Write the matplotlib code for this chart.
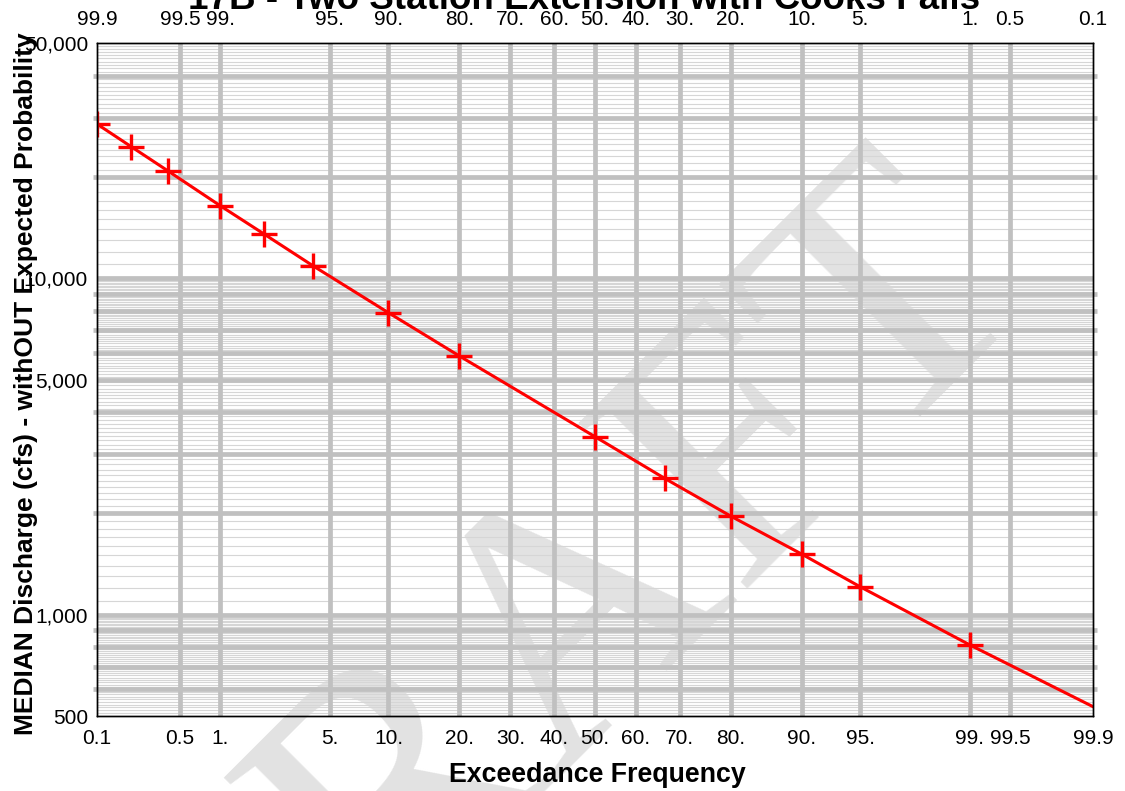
import numpy as np
import matplotlib
matplotlib.use("Agg")
import matplotlib.pyplot as plt
from matplotlib.ticker import NullFormatter, NullLocator, FixedLocator
from statistics import NormalDist

# ---------------- data ----------------
exceed_freq = [0.1, 0.2, 0.4, 1, 2, 4, 10, 20, 50, 66.7, 80, 90, 95, 99, 99.9]
median_flow = [28720, 24600, 20870, 16430, 13530, 10890, 7895, 5873,
               3381, 2543, 1964, 1515, 1211, 813, 533]
n_markers = 14  # points with '+' markers (last value is the curve end)

bottom_ticks = [0.1, 0.5, 1, 5, 10, 20, 30, 40, 50, 60, 70, 80, 90, 95, 99, 99.5, 99.9]
bottom_labels = ["0.1", "0.5", "1.", "5.", "10.", "20.", "30.", "40.", "50.",
                 "60.", "70.", "80.", "90.", "95.", "99.", "99.5", "99.9"]
top_labels = ["99.9", "99.5", "99.", "95.", "90.", "80.", "70.", "60.", "50.",
              "40.", "30.", "20.", "10.", "5.", "1.", "0.5", "0.1"]
y_ticks = [500, 1000, 5000, 10000, 50000]
y_labels = ["500", "1,000", "5,000", "10,000", "50,000"]

title = "17B - Two Station Extension with Cooks Falls"
xlabel = "Exceedance Frequency"
ylabel = "MEDIAN Discharge (cfs) - withOUT Expected Probability"
watermark = "DRAFT"

# ---------------- scale ----------------
_nd = NormalDist()
_ppf = np.vectorize(lambda p: _nd.inv_cdf(min(max(p / 100.0, 1e-9), 1 - 1e-9)), otypes=[float])
_cdf = np.vectorize(lambda z: _nd.cdf(z) * 100.0, otypes=[float])

plt.rcParams["font.family"] = ["Liberation Sans", "DejaVu Sans"]

W, H = 1125, 791
fig = plt.figure(figsize=(W / 100, H / 100), dpi=100)
fig.patch.set_facecolor("white")

# watermark
fig.text(555 / W, 1 - 649 / H, watermark, rotation=45, rotation_mode="anchor",
         ha="center", va="center", fontsize=260, family="Liberation Serif",
         color="#e2e2e2", zorder=-5)

ax = fig.add_axes([97 / W, 75 / H, 996 / W, 673 / H])
ax.set_facecolor("none")
ax.set_xscale("function", functions=(_ppf, _cdf))
ax.set_yscale("log")
ax.set_xlim(0.1, 99.9)
ax.set_ylim(500, 50000)

thick_c = "#c0c0c0"
thin_c = "#d6d6d6"
thick_vals = []
# horizontal grid
for base in (100, 1000, 10000):
    for k in range(10, 100):
        v = base * k / 10.0
        if 500 < v < 50000:
            if k % 10 == 0:
                thick_vals.append(v)
                ax.axhline(v, color=thick_c, lw=3.4, zorder=1.2)
            else:
                ax.axhline(v, color=thin_c, lw=0.8, zorder=1.0)
# vertical grid
interior = bottom_ticks[1:-1]
for p in interior:
    ax.axvline(p, color=thick_c, lw=3.4, zorder=1.3)

ax.plot(exceed_freq, median_flow, color="red", lw=2.2, zorder=3)
ax.plot(exceed_freq[:n_markers], median_flow[:n_markers], ls="none",
        marker="+", ms=19, mew=2.4, color="red", zorder=4)

ax.set_xticks(bottom_ticks)
ax.set_xticklabels(bottom_labels)
ax.xaxis.set_minor_locator(NullLocator())
ax.set_yticks(y_ticks)
ax.set_yticklabels(y_labels)
ax.yaxis.set_minor_locator(FixedLocator(thick_vals))
ax.yaxis.set_minor_formatter(NullFormatter())
ax.tick_params(axis="x", length=0, pad=9, labelsize=15)
ax.tick_params(axis="y", which="major", length=0, pad=6.5, labelsize=15)
ax.tick_params(axis="y", which="minor", length=3, width=3.4, color=thick_c,
               left=True, right=True)

ax2 = ax.twiny()
ax2.set_xscale("function", functions=(_ppf, _cdf))
ax2.set_xlim(0.1, 99.9)
ax2.set_xticks(bottom_ticks)
ax2.set_xticklabels(top_labels)
ax2.xaxis.set_minor_locator(FixedLocator(interior))
ax2.xaxis.set_minor_formatter(NullFormatter())
ax2.tick_params(axis="x", which="major", length=0, pad=10, labelsize=15)
ax2.tick_params(axis="x", which="minor", length=3, width=3.4, color=thick_c)

for a in (ax, ax2):
    for s in a.spines.values():
        s.set_color("black")
        s.set_linewidth(1.0)
        s.set_zorder(5)

fig.text(584 / W, 1 - 9 / H, title, ha="center", va="baseline", fontsize=26.5,
         weight="bold")
fig.text(597 / W, (H - 782) / H, xlabel, ha="center", va="baseline",
         fontsize=19.3, weight="bold")
fig.text(33 / W, 1 - 384 / H, ylabel, rotation=90, rotation_mode="anchor",
         ha="center", va="baseline", fontsize=19, weight="bold")

fig.savefig("out.png", dpi=100)
